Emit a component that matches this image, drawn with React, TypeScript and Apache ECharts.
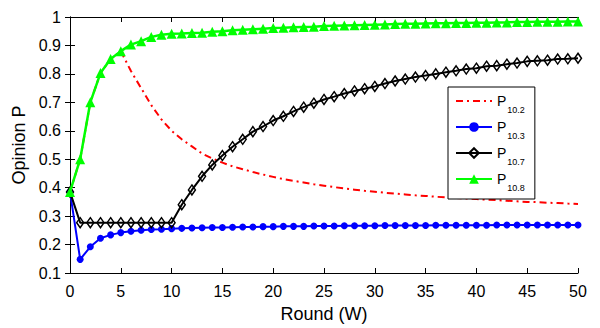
import React, { useEffect, useRef } from "react";
import * as echarts from "echarts";

const rounds = [
  0, 1, 2, 3, 4, 5, 6, 7, 8, 9, 10, 11, 12, 13, 14, 15, 16, 17, 18, 19, 20,
  21, 22, 23, 24, 25, 26, 27, 28, 29, 30, 31, 32, 33, 34, 35, 36, 37, 38, 39, 40,
  41, 42, 43, 44, 45, 46, 47, 48, 49, 50,
];

const p102 = [
  0.385, 0.5, 0.7, 0.803, 0.852, 0.88, 0.81, 0.75, 0.69, 0.64, 0.6, 0.57, 0.545,
  0.52, 0.503, 0.488, 0.475, 0.465, 0.455, 0.446, 0.438, 0.43, 0.424, 0.418,
  0.412, 0.407, 0.402, 0.397, 0.393, 0.389, 0.386, 0.382, 0.379, 0.376, 0.373,
  0.371, 0.368, 0.366, 0.364, 0.362, 0.36, 0.358, 0.356, 0.354, 0.352, 0.35,
  0.349, 0.347, 0.346, 0.344, 0.343,
];

const p103 = [
  0.385, 0.148, 0.192, 0.222, 0.234, 0.242, 0.247, 0.25, 0.253, 0.254, 0.256,
  0.257, 0.258, 0.259, 0.26, 0.26, 0.261, 0.262, 0.262, 0.263, 0.263, 0.264,
  0.264, 0.264, 0.265, 0.265, 0.265, 0.266, 0.266, 0.266, 0.266, 0.267, 0.267,
  0.267, 0.267, 0.267, 0.268, 0.268, 0.268, 0.268, 0.268, 0.268, 0.269, 0.269,
  0.269, 0.269, 0.269, 0.269, 0.269, 0.269, 0.269,
];

const p107 = [
  0.385, 0.277, 0.277, 0.277, 0.277, 0.277, 0.277, 0.277, 0.277, 0.277, 0.277,
  0.34, 0.392, 0.44, 0.48, 0.513, 0.544, 0.57, 0.597, 0.615, 0.636, 0.651,
  0.668, 0.683, 0.697, 0.71, 0.72, 0.731, 0.74, 0.748, 0.756, 0.766, 0.775,
  0.782, 0.789, 0.794, 0.8, 0.806, 0.811, 0.817, 0.82, 0.827, 0.829, 0.834,
  0.838, 0.844, 0.846, 0.848, 0.852, 0.853, 0.855,
];

const p108 = [
  0.385, 0.5, 0.7, 0.803, 0.852, 0.88, 0.903, 0.915, 0.93, 0.938, 0.941, 0.942,
  0.944, 0.945, 0.948, 0.95, 0.953, 0.955, 0.957, 0.959, 0.961, 0.962, 0.964,
  0.965, 0.966, 0.968, 0.969, 0.97, 0.971, 0.972, 0.973, 0.974, 0.975, 0.976,
  0.976, 0.977, 0.978, 0.978, 0.979, 0.979, 0.98, 0.98, 0.981, 0.981, 0.982,
  0.982, 0.983, 0.983, 0.983, 0.984, 0.984,
];

const xTicks = { min: 0, max: 50, interval: 5 };
const yTicks = { min: 0.1, max: 1, interval: 0.1 };

const FONT = "'Liberation Sans', Arial, sans-serif";

function pairs(vals: number[]) {
  return rounds.map((r, i) => [r, vals[i]]);
}

export default function App() {
  const ref = useRef<HTMLDivElement>(null);
  useEffect(() => {
    if (!ref.current) return;
    const chart = echarts.init(ref.current, null, { renderer: "svg" });
    const axisLine = { show: true, lineStyle: { color: "#000", width: 1 } };
    const tick = { show: true, inside: true, length: 5, lineStyle: { color: "#000", width: 1 } };
    const label = { color: "#000", fontSize: 16, fontFamily: FONT };
    chart.setOption({
      animation: false,
      backgroundColor: "#fff",
      grid: { left: 70, right: 22, top: 17, bottom: 51, containLabel: false },
      xAxis: [
        {
          type: "value",
          ...xTicks,
          position: "bottom",
          axisLine,
          axisTick: tick,
          splitLine: { show: false },
          axisLabel: { ...label, margin: 10 },
          name: "Round (W)",
          nameLocation: "middle",
          nameGap: 32,
          nameTextStyle: { color: "#000", fontSize: 18, fontFamily: FONT },
        },
        {
          type: "value",
          ...xTicks,
          position: "top",
          axisLine,
          axisTick: tick,
          splitLine: { show: false },
          axisLabel: { show: false },
        },
      ],
      yAxis: [
        {
          type: "value",
          ...yTicks,
          position: "left",
          axisLine,
          axisTick: tick,
          splitLine: { show: false },
          axisLabel: {
            ...label,
            margin: 9,
            formatter: (v: number) => String(Math.round(v * 10) / 10),
          },
          name: "Opinion P",
          nameLocation: "middle",
          nameGap: 39,
          nameTextStyle: { color: "#000", fontSize: 18, fontFamily: FONT },
        },
        {
          type: "value",
          ...yTicks,
          position: "right",
          axisLine,
          axisTick: tick,
          splitLine: { show: false },
          axisLabel: { show: false },
        },
      ],
      legend: {
        orient: "vertical",
        left: 448,
        top: 87,
        padding: [7, 10, 7, 7],
        itemGap: 6,
        itemWidth: 36,
        itemHeight: 12,
        backgroundColor: "#fff",
        borderColor: "#000",
        borderWidth: 1,
        borderRadius: 0,
        data: [
          { name: "P10.2", itemStyle: { opacity: 0 } },
          { name: "P10.3" },
          { name: "P10.7" },
          { name: "P10.8" },
        ],
        formatter: (name: string) => `{p|P}{s|${name.slice(1)}}`,
        textStyle: {
          fontFamily: FONT,
          color: "#000",
          rich: {
            p: { fontSize: 14, fontFamily: FONT, color: "#000", lineHeight: 18, verticalAlign: "middle" },
            s: { fontSize: 9, fontFamily: FONT, color: "#000", lineHeight: 18, verticalAlign: "bottom", padding: [0, 0, -4, 1] },
          },
        },
      },
      series: [
        {
          name: "P10.2",
          type: "line",
          data: pairs(p102),
          symbol: "none",
          lineStyle: { color: "#ff0000", width: 2, type: [7, 4, 2, 4] },
          itemStyle: { color: "#ff0000" },
          z: 2,
        },
        {
          name: "P10.3",
          type: "line",
          data: pairs(p103),
          symbol: "circle",
          symbolSize: 7,
          lineStyle: { color: "#0000ff", width: 2 },
          itemStyle: { color: "#0000ff" },
          z: 3,
        },
        {
          name: "P10.7",
          type: "line",
          data: pairs(p107),
          symbol: "diamond",
          symbolSize: [7, 10],
          lineStyle: { color: "#000", width: 2 },
          itemStyle: { color: "rgba(255,255,255,0)", borderColor: "#000", borderWidth: 1.5 },
          z: 4,
        },
        {
          name: "P10.8",
          type: "line",
          data: pairs(p108),
          symbol: "triangle",
          symbolSize: 10,
          lineStyle: { color: "#00ff00", width: 2.5 },
          itemStyle: { color: "#00ff00" },
          z: 5,
        },
      ],
    });
    return () => chart.dispose();
  }, []);
  return (
    <div
      ref={ref}
      style={{ position: "fixed", left: 0, top: 0, width: 600, height: 328, background: "#fff" }}
    />
  );
}
